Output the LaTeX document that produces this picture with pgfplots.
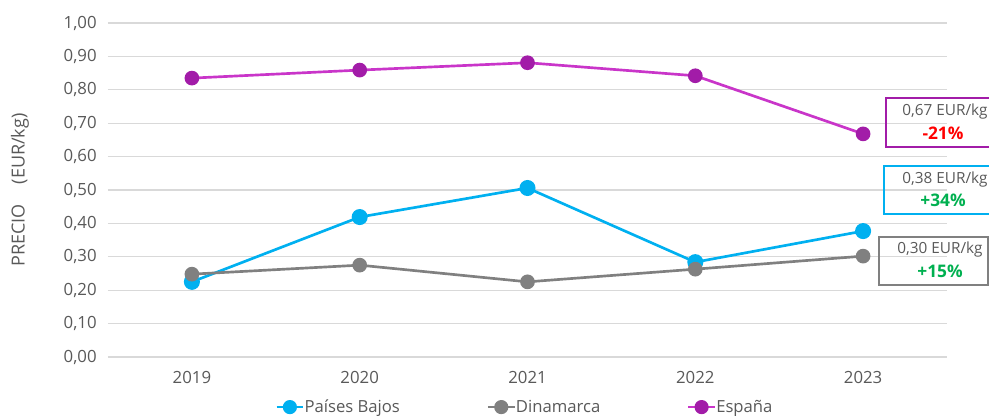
\documentclass[border=0pt]{standalone}
\usepackage{pgfplots}
\pgfplotsset{compat=1.18}
\usepackage{fontspec}
\setmainfont{Open Sans}
\definecolor{txt}{HTML}{595959}
\definecolor{gridc}{HTML}{D9D9D9}
\definecolor{pb}{HTML}{00B0F0}
\definecolor{dk}{HTML}{808080}
\definecolor{esl}{HTML}{C935C9}
\definecolor{esm}{HTML}{A21CA8}
\definecolor{red}{HTML}{FF0000}
\definecolor{grn}{HTML}{00B050}
\begin{document}
\begin{tikzpicture}[x=0.75pt,y=0.75pt]
\begin{axis}[
  at={(0,0)}, anchor=south west,
  scale only axis, width=629.25pt, height=250.5pt,
  xmin=-0.5, xmax=4.5, ymin=0, ymax=1,
  xtick={0,1,2,3,4}, xticklabels={2019,2020,2021,2022,2023},
  ytick={0,0.1,0.2,0.3,0.4,0.5,0.6,0.7,0.8,0.9,1.0},
  /pgf/number format/fixed,
  /pgf/number format/fixed zerofill,
  /pgf/number format/precision=2,
  /pgf/number format/use comma,
  /pgf/number format/assume math mode=true,
  ticklabel style={font=\fontsize{12.6pt}{14pt}\selectfont, text=txt},
  yticklabel style={xshift=-5pt},
  xticklabel style={yshift=-7pt},
  axis line style={draw=none},
  major tick length=0pt,
  xmajorgrids=false,
  ymajorgrids, grid style={draw=gridc, line width=0.8pt},
  clip=false,
  legend style={draw=none, at={(axis description cs:0.199,-0.15)}, anchor=west, font=\fontsize{12.5pt}{14pt}\selectfont, text=txt, /tikz/every even column/.append style={column sep=65pt}, inner sep=0pt,
    nodes={inner sep=0pt}},
  legend columns=3,
  legend image code/.code={\draw[#1, mark=none] (0pt,0pt) -- (20pt,0pt); \draw[#1, only marks, mark size=4.3pt] plot coordinates {(10pt,0pt)};},
]
\addplot[pb, line width=2pt, mark=*, mark size=5pt, mark options={fill=pb, draw=pb}] coordinates {(0,0.225) (1,0.419) (2,0.506) (3,0.284) (4,0.377)};
\addlegendentry{Países Bajos}
\addplot[dk, line width=2pt, mark=*, mark size=4.5pt, mark options={fill=dk, draw=dk}] coordinates {(0,0.248) (1,0.275) (2,0.225) (3,0.263) (4,0.302)};
\addlegendentry{Dinamarca}
\addplot[esl, line width=2pt, mark=*, mark size=4.5pt, mark options={fill=esm, draw=esm}] coordinates {(0,0.835) (1,0.859) (2,0.881) (3,0.842) (4,0.668)};
\addlegendentry{España}
\end{axis}
% y label
\node[rotate=90, text=txt, font=\fontsize{13.5pt}{15pt}\selectfont] at (-88,167) {PRECIO\hspace{1.1em}(EUR/kg)};
% annotation boxes
\draw[esm, line width=0.8pt] (778,210) rectangle (890,259);
\node[text=txt, font=\fontsize{11.5pt}{13pt}\selectfont] at (837,245) {0,67 EUR/kg};
\node[text=red, font=\fontsize{13pt}{14pt}\selectfont\bfseries] at (835,224) {-21\%};
\draw[pb, line width=0.8pt] (776,143) rectangle (890,191);
\node[text=txt, font=\fontsize{11.5pt}{13pt}\selectfont] at (837,177) {0,38 EUR/kg};
\node[text=grn, font=\fontsize{13pt}{14pt}\selectfont\bfseries] at (835,157) {+34\%};
\draw[dk, line width=0.8pt] (771,72) rectangle (880,120);
\node[text=txt, font=\fontsize{11.5pt}{13pt}\selectfont] at (832,107) {0,30 EUR/kg};
\node[text=grn, font=\fontsize{13pt}{14pt}\selectfont\bfseries] at (832,86) {+15\%};
\pgfresetboundingbox
\useasboundingbox (-108,-60) rectangle (881,357);
\end{tikzpicture}
\end{document}
